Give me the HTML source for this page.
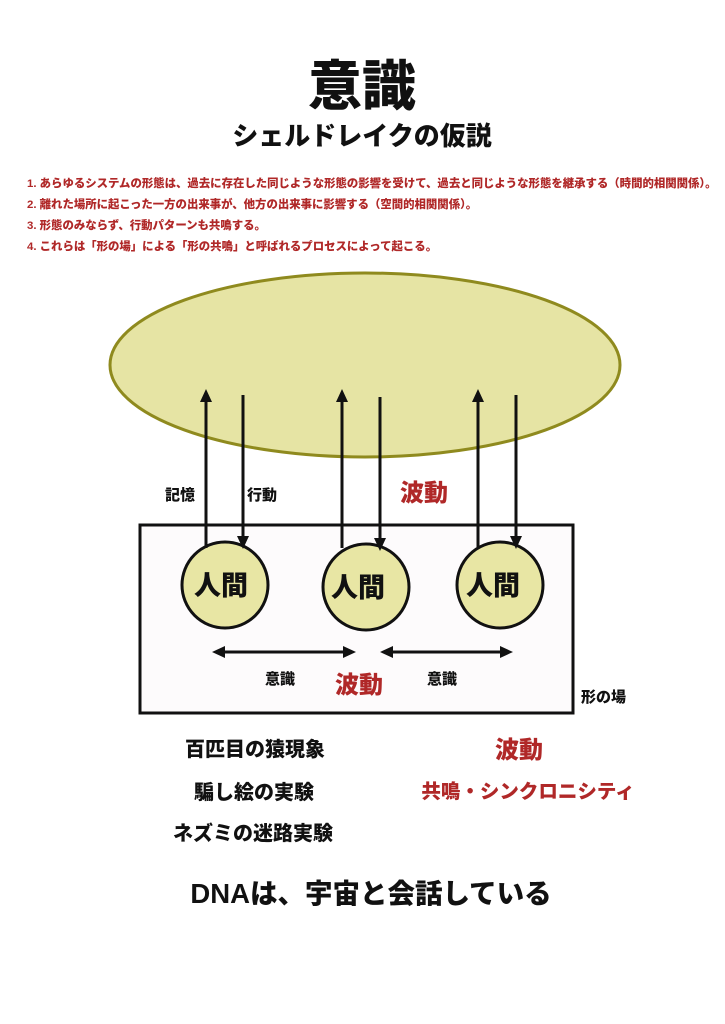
<!DOCTYPE html>
<html><head><meta charset="utf-8"><style>
html,body{margin:0;padding:0;background:#fff;}
svg{display:block;}
text{font-family:"Liberation Sans","Noto Sans CJK JP",sans-serif;font-weight:900;}
</style></head><body>
<svg width="725" height="1024" viewBox="0 0 725 1024" xmlns="http://www.w3.org/2000/svg">
<text x="362" y="105" font-size="54" text-anchor="middle" fill="#111">意識</text>
<text x="362" y="145" font-size="26" text-anchor="middle" fill="#111">シェルドレイクの仮説</text>
<g font-size="11.4" fill="#b02828" font-weight="700">
<text x="27" y="187">1. あらゆるシステムの形態は、過去に存在した同じような形態の影響を受けて、過去と同じような形態を継承する（時間的相関関係）。</text>
<text x="27" y="208">2. 離れた場所に起こった一方の出来事が、他方の出来事に影響する（空間的相関関係）。</text>
<text x="27" y="229">3. 形態のみならず、行動パターンも共鳴する。</text>
<text x="27" y="250">4. これらは「形の場」による「形の共鳴」と呼ばれるプロセスによって起こる。</text>
</g>
<ellipse cx="365" cy="365" rx="255" ry="92" fill="#e6e4a4" stroke="#8f8a1e" stroke-width="3"/>
<rect x="140" y="525" width="433" height="188" fill="#fdfbfc" stroke="#111" stroke-width="3"/>
<g fill="#e8e6a4" stroke="#111" stroke-width="3">
<circle cx="225" cy="585" r="43"/><circle cx="366" cy="587" r="43"/><circle cx="500" cy="585" r="43"/>
</g>
<g stroke="#111" stroke-width="3">
<line x1="206" y1="548" x2="206" y2="398"/><line x1="243" y1="395" x2="243" y2="540"/>
<line x1="342" y1="548" x2="342" y2="398"/><line x1="380" y1="397" x2="380" y2="542"/>
<line x1="478" y1="548" x2="478" y2="398"/><line x1="516" y1="395" x2="516" y2="540"/>
<line x1="220" y1="652" x2="348" y2="652"/><line x1="388" y1="652" x2="505" y2="652"/>
</g>
<g fill="#111">
<polygon points="206,389 200,402 212,402"/><polygon points="243,549 237,536 249,536"/>
<polygon points="342,389 336,402 348,402"/><polygon points="380,551 374,538 386,538"/>
<polygon points="478,389 472,402 484,402"/><polygon points="516,549 510,536 522,536"/>
<polygon points="212,652 225,646 225,658"/><polygon points="356,652 343,646 343,658"/>
<polygon points="380,652 393,646 393,658"/><polygon points="513,652 500,646 500,658"/>
</g>
<g font-size="27" fill="#111" text-anchor="middle">
<text x="221" y="595">人間</text><text x="358" y="597">人間</text><text x="493" y="595">人間</text>
</g>
<g font-size="15" fill="#111">
<text x="165" y="500">記憶</text><text x="247" y="500">行動</text>
<text x="265" y="684">意識</text><text x="427" y="684">意識</text>
<text x="581" y="702">形の場</text>
</g>
<g font-size="24" fill="#b02828">
<text x="400" y="501">波動</text><text x="335" y="693">波動</text>
</g>
<g font-size="20" fill="#111" text-anchor="middle">
<text x="255" y="756">百匹目の猿現象</text>
<text x="254" y="799">騙し絵の実験</text>
<text x="253" y="840">ネズミの迷路実験</text>
</g>
<text x="519" y="758" font-size="24" fill="#b02828" text-anchor="middle">波動</text>
<text x="528" y="798" font-size="19.5" fill="#b02828" text-anchor="middle">共鳴・シンクロニシティ</text>
<text x="371" y="903" font-size="27.5" fill="#111" text-anchor="middle">DNAは、宇宙と会話している</text>
</svg>
</body></html>
